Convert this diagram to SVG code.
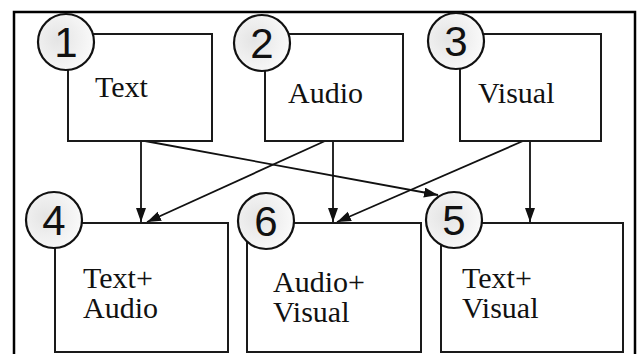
<svg xmlns="http://www.w3.org/2000/svg" width="638" height="354" viewBox="0 0 638 354">
<style>
.box{fill:#fff;stroke:#1a1a1a;stroke-width:2}
.circ{fill:url(#cg);stroke:#111;stroke-width:2.2}
.num{font-family:"Liberation Sans",Arial,sans-serif;font-size:42px;fill:#111;text-anchor:middle}
.lbl{font-family:"Liberation Serif","Times New Roman",serif;font-size:30px;fill:#111}
.conn line{stroke:#111;stroke-width:1.8;marker-end:url(#ah)}
</style>
<defs>
<radialGradient id="cg" cx="0.35" cy="0.45" r="0.7">
<stop offset="0" stop-color="#e4e4e4"/>
<stop offset="1" stop-color="#fbfbfb"/>
</radialGradient>
<marker id="ah" markerUnits="userSpaceOnUse" markerWidth="16" markerHeight="12" refX="14" refY="5" orient="auto">
<path d="M0,0 L14,5 L0,10 Z" fill="#111"/>
</marker>
</defs>
<rect width="638" height="354" fill="#fff"/>
<rect x="14" y="12" width="621" height="350" fill="none" stroke="#000" stroke-width="2.5"/>
<g class="conn" id="connectors">
<line x1="141" y1="141" x2="141" y2="222"/>
<line x1="145" y1="141" x2="438" y2="195"/>
<line x1="325" y1="141" x2="147" y2="222"/>
<line x1="333" y1="141" x2="333" y2="222"/>
<line x1="523" y1="141" x2="337" y2="222"/>
<line x1="530" y1="141" x2="530" y2="222"/>
</g>
<g id="n1">
<rect class="box" x="68" y="34" width="144" height="107"/>
<circle class="circ" cx="66" cy="42" r="28"/>
<text class="num" x="66" y="57">1</text>
<text class="lbl" x="95" y="97">Text</text>
</g>
<g id="n2">
<rect class="box" x="265" y="34" width="138" height="107"/>
<circle class="circ" cx="262" cy="43" r="28"/>
<text class="num" x="262" y="58">2</text>
<text class="lbl" x="288" y="103">Audio</text>
</g>
<g id="n3">
<rect class="box" x="460" y="34" width="141" height="107"/>
<circle class="circ" cx="456" cy="41" r="28"/>
<text class="num" x="456" y="56">3</text>
<text class="lbl" x="478" y="103">Visual</text>
</g>
<g id="n4">
<rect class="box" x="55" y="223" width="173" height="129"/>
<circle class="circ" cx="54" cy="220" r="28"/>
<text class="num" x="54" y="235">4</text>
<text class="lbl" x="83" y="288">Text+</text>
<text class="lbl" x="83" y="318">Audio</text>
</g>
<g id="n6">
<rect class="box" x="247" y="223" width="174" height="129"/>
<circle class="circ" cx="266" cy="221" r="28"/>
<text class="num" x="266" y="236">6</text>
<text class="lbl" x="273" y="292">Audio+</text>
<text class="lbl" x="273" y="322">Visual</text>
</g>
<g id="n5">
<rect class="box" x="441" y="223" width="182" height="129"/>
<circle class="circ" cx="454" cy="220" r="28"/>
<text class="num" x="454" y="235">5</text>
<text class="lbl" x="462" y="288">Text+</text>
<text class="lbl" x="462" y="318">Visual</text>
</g>
</svg>
